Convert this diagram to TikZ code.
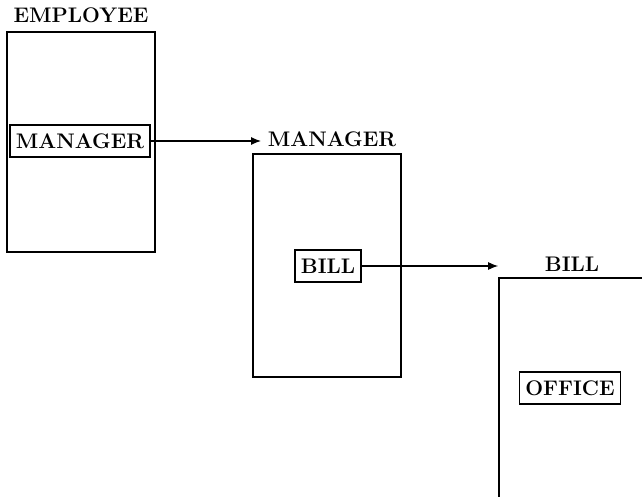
\documentclass[tikz,border=0pt]{standalone}
\usepackage{tikz}
\usetikzlibrary{arrows.meta, positioning, calc}

\tikzset{
  recbox/.style={draw, line width=1.5pt, rectangle, inner sep=0pt},
  field/.style={draw, line width=1.2pt, rectangle, inner xsep=1.8mm, minimum height=9.6mm, fill=white, font=\fontsize{18}{21}\selectfont\bfseries},
  reclbl/.style={anchor=base, inner sep=0pt, font=\fontsize{18}{21}\selectfont\bfseries},
  link/.style={line width=1pt, -{Latex[length=3mm, width=2.4mm]}}
}

\begin{document}
\begin{tikzpicture}[x=0.3mm, y=-0.3mm]
  \useasboundingbox (0,0) rectangle (642,497);
  \clip (0,0) rectangle (642,497);

  % EMPLOYEE record
  \node[recbox, minimum width=44.4mm, minimum height=66mm] (empbox) at (81,142) {};
  \node[reclbl] (emplbl) at ([yshift=2.7mm]empbox.north) {EMPLOYEE};
  \node[field] (empmgr) at (80,141) {MANAGER};

  % MANAGER record
  \node[recbox, minimum width=44.4mm, minimum height=66.9mm] (mgrbox) at (327,265.5) {};
  \node[reclbl] (mgrlbl) at ([xshift=1.5mm, yshift=2mm]mgrbox.north) {MANAGER};
  \node[field] (mgrbill) at (328,266) {BILL};

  % BILL record
  \node[recbox, minimum width=43.8mm, minimum height=72mm] (billbox) at (572,398) {};
  \node[reclbl] (billlbl) at ([yshift=1.8mm]billbox.north) {BILL};
  \node[field] (billoff) at (570,388) {OFFICE};

  % pointers
  \draw[link] (empmgr.east) -- ([xshift=-2mm]empmgr.east -| mgrlbl.west);
  \draw[link] (mgrbill.east) -- (mgrbill.east -| billbox.west);
\end{tikzpicture}
\end{document}
